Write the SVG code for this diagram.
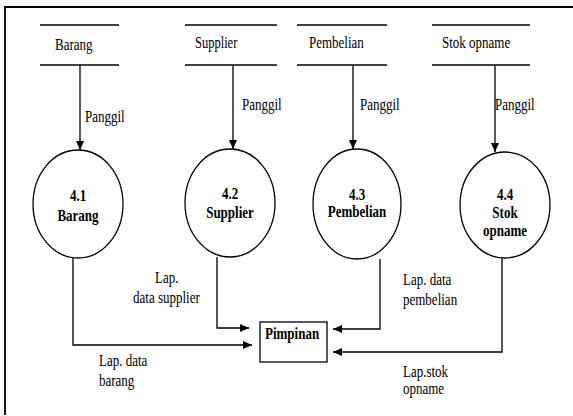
<svg xmlns="http://www.w3.org/2000/svg" width="573" height="416" viewBox="0 0 573 416" font-family="Liberation Serif, Times New Roman, DejaVu Serif, serif" font-size="13">
<defs>
<marker id="arr" markerWidth="9" markerHeight="8" refX="9" refY="4" orient="auto" markerUnits="userSpaceOnUse">
<path d="M0,0 L9,4 L0,8 Z" fill="#000"/>
</marker>
<style>
text{fill:#000}
.b{font-weight:bold;text-anchor:middle}
.s{font-size:12.5px}
.line{stroke:#000;stroke-width:1.3;fill:none}
.store{stroke:#000;stroke-width:1.5}
.proc{fill:#fff;stroke:#000;stroke-width:1.3}
</style>
</defs>
<rect width="573" height="416" fill="#fff"/>
<g id="frame">
<path d="M5,415 L5,7 L573,7" stroke="#000" stroke-width="1.8" fill="none"/>
</g>
<g id="store-barang">
<line class="store" x1="40" y1="25" x2="119" y2="25"/>
<line class="store" x1="40" y1="65" x2="119" y2="65"/>
<text transform="matrix(1,0,0,1.35,55,50)">Barang</text>
</g>
<g id="store-supplier">
<line class="store" x1="185" y1="25" x2="277" y2="25"/>
<line class="store" x1="185" y1="65" x2="277" y2="65"/>
<text class="s" transform="matrix(1,0,0,1.3,195,47.5)">Supplier</text>
</g>
<g id="store-pembelian">
<line class="store" x1="297" y1="25" x2="387" y2="25"/>
<line class="store" x1="297" y1="65" x2="387" y2="65"/>
<text transform="matrix(1,0,0,1.35,309,48)">Pembelian</text>
</g>
<g id="store-stok">
<line class="store" x1="432" y1="25" x2="530" y2="25"/>
<line class="store" x1="432" y1="65" x2="530" y2="65"/>
<text transform="matrix(1,0,0,1.35,442,48)">Stok opname</text>
</g>
<g id="p41">
<ellipse class="proc" cx="78" cy="204" rx="45" ry="54"/>
<text class="b" transform="matrix(1,0,0,1.35,78,201)">4.1</text>
<text class="b" transform="matrix(1,0,0,1.35,78,221)">Barang</text>
</g>
<g id="p42">
<ellipse class="proc" cx="230" cy="203" rx="45" ry="54"/>
<text class="b" transform="matrix(1,0,0,1.35,230,199)">4.2</text>
<text class="b" transform="matrix(1,0,0,1.35,230,218)">Supplier</text>
</g>
<g id="p43">
<ellipse class="proc" cx="357" cy="204" rx="44" ry="55"/>
<text class="b" transform="matrix(1,0,0,1.35,357,200)">4.3</text>
<text class="b" transform="matrix(1,0,0,1.35,357,217)">Pembelian</text>
</g>
<g id="p44">
<ellipse class="proc" cx="505" cy="205" rx="45" ry="53"/>
<text class="b" transform="matrix(1,0,0,1.35,505,200)">4.4</text>
<text class="b" transform="matrix(1,0,0,1.35,505,218)">Stok</text>
<text class="b" transform="matrix(1,0,0,1.35,505,236)">opname</text>
</g>
<g id="pimpinan">
<rect x="260" y="322" width="67" height="40" fill="#fff" stroke="#000" stroke-width="1.3"/>
<text font-weight="bold" transform="matrix(1,0,0,1.35,265,338.5)">Pimpinan</text>
</g>
<g id="connectors">
<line class="line" x1="80" y1="65" x2="80" y2="150" marker-end="url(#arr)"/>
<line class="line" x1="233" y1="65" x2="233" y2="149" marker-end="url(#arr)"/>
<line class="line" x1="353" y1="65" x2="353" y2="149" marker-end="url(#arr)"/>
<line class="line" x1="495" y1="65" x2="495" y2="152" marker-end="url(#arr)"/>
<text transform="matrix(1,0,0,1.35,85,122)">Panggil</text>
<text transform="matrix(1,0,0,1.35,242,110)">Panggil</text>
<text transform="matrix(1,0,0,1.35,360,110)">Panggil</text>
<text transform="matrix(1,0,0,1.35,495,110)">Panggil</text>
<polyline class="line" points="73,258 73,345 252,345" marker-end="url(#arr)"/>
<polyline class="line" points="217,257 217,328 249,328" marker-end="url(#arr)"/>
<polyline class="line" points="380,259 380,329 333,329" marker-end="url(#arr)"/>
<polyline class="line" points="502,258 502,352 333,352" marker-end="url(#arr)"/>
<text transform="matrix(1,0,0,1.35,155,283)">Lap.</text>
<text transform="matrix(1,0,0,1.35,133,303)">data supplier</text>
<text transform="matrix(1,0,0,1.35,99,366)">Lap. data</text>
<text transform="matrix(1,0,0,1.35,99,386)">barang</text>
<text transform="matrix(1,0,0,1.35,403,285)">Lap. data</text>
<text transform="matrix(1,0,0,1.35,403,305)">pembelian</text>
<text transform="matrix(1,0,0,1.35,403,377)">Lap.stok</text>
<text transform="matrix(1,0,0,1.35,403,394)">opname</text>
</g>
</svg>
